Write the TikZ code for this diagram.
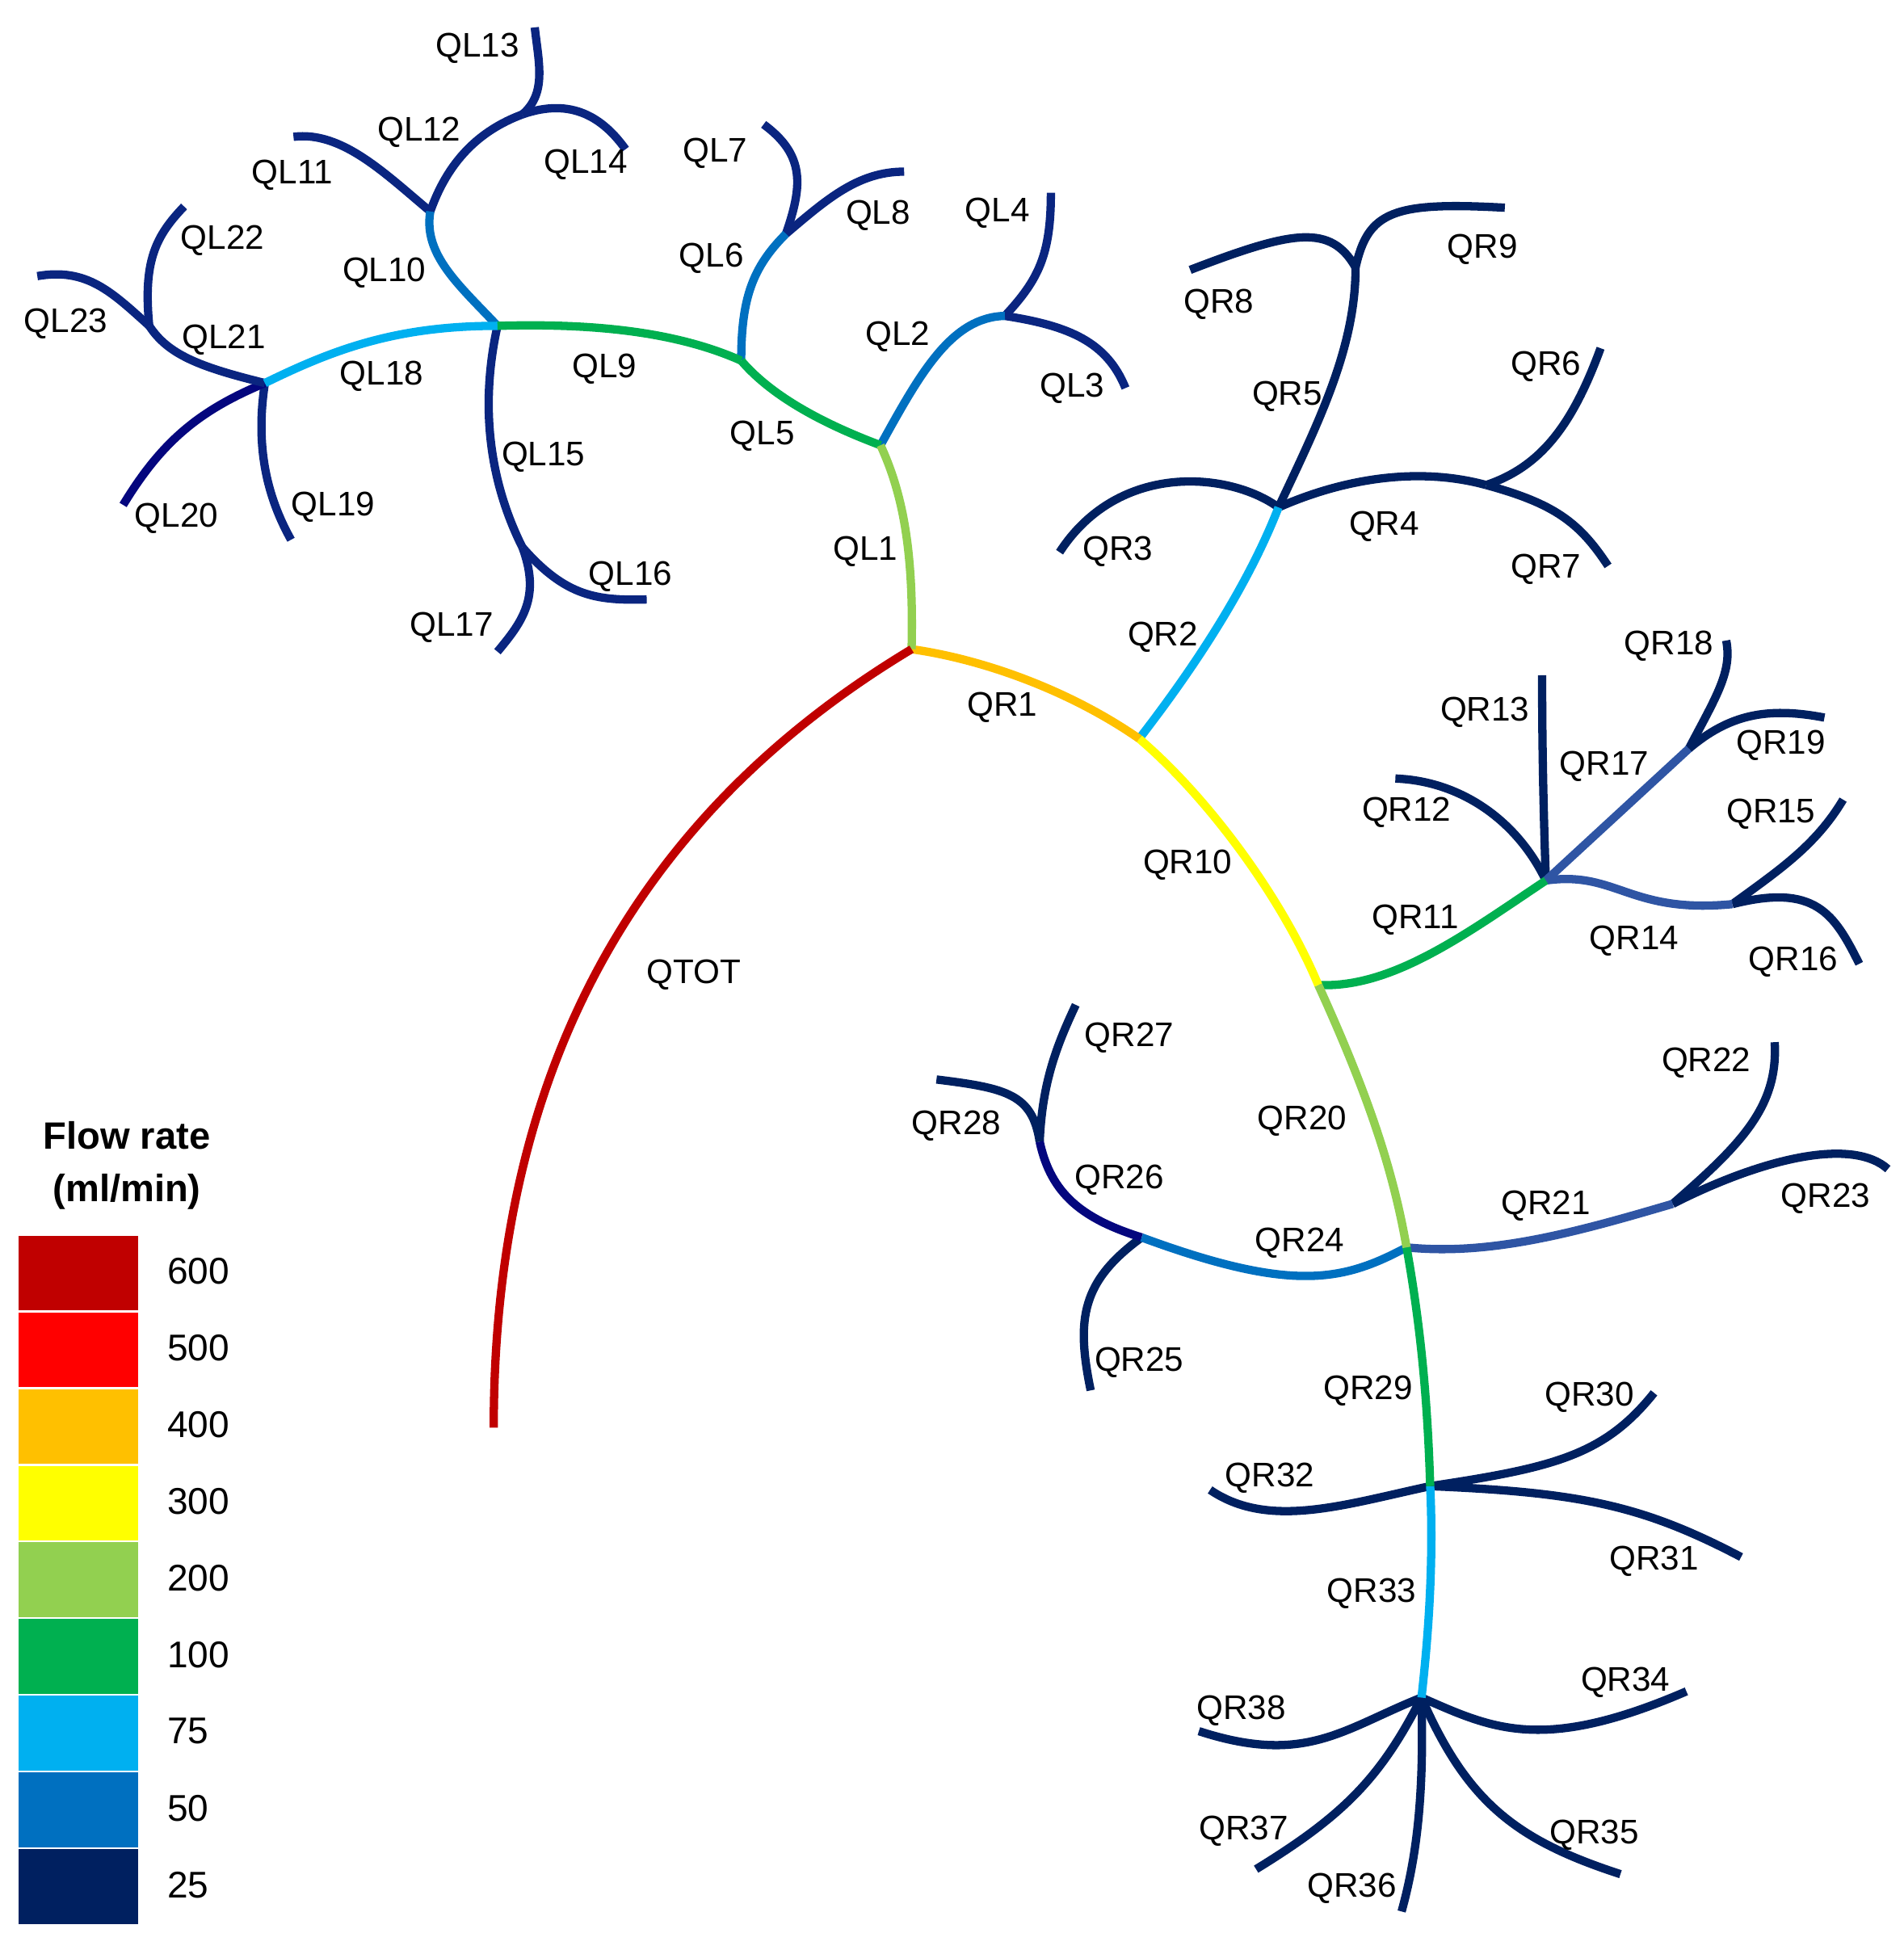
\documentclass[tikz,border=0pt]{standalone}
\usepackage{fontspec}
\setmainfont{Liberation Sans}
\usepackage{tikz}
\usetikzlibrary{positioning, calc}

\definecolor{c600}{HTML}{C00000}
\definecolor{c500}{HTML}{FF0000}
\definecolor{c400}{HTML}{FFC000}
\definecolor{c300}{HTML}{FFFF00}
\definecolor{c200}{HTML}{92D050}
\definecolor{c100}{HTML}{00B050}
\definecolor{c75}{HTML}{00B0F0}
\definecolor{c50}{HTML}{0070C0}
\definecolor{c25}{HTML}{002060}
\definecolor{c25l}{HTML}{0A2580}
\definecolor{c35}{HTML}{2F55A4}
\definecolor{cdeep}{HTML}{04067E}

\tikzstyle{vessel} = [line width=1.9pt, line cap=butt]
\tikzstyle{lbl} = [inner sep=0pt, font=\fontsize{7.8}{9}\selectfont]
\tikzstyle{swatch} = [rectangle, minimum width=0.96cm, minimum height=0.6cm, inner sep=0pt]

\begin{document}
\begin{tikzpicture}[x=0.01cm, y=-0.01cm]
\useasboundingbox (0,0) rectangle (1531,1568);

% junctions and free ends
\coordinate (in) at (397,1148);
\coordinate (qtot) at (733,522);
\coordinate (ql1) at (708,358);
\coordinate (ql2) at (808,254);
\coordinate (ql3) at (905,312);
\coordinate (ql4) at (845,155);
\coordinate (ql5) at (596,290);
\coordinate (ql6) at (632,188);
\coordinate (ql7) at (614,100);
\coordinate (ql8) at (727,138);
\coordinate (ql9) at (400,262);
\coordinate (ql10) at (346,170);
\coordinate (ql11) at (236,110);
\coordinate (ql12) at (420,92);
\coordinate (ql13) at (430,22);
\coordinate (ql14) at (503,120);
\coordinate (ql15) at (420,440);
\coordinate (ql16) at (520,482);
\coordinate (ql17) at (400,524);
\coordinate (ql18) at (213,308);
\coordinate (ql19) at (234,434);
\coordinate (ql20) at (99,406);
\coordinate (ql21) at (120,262);
\coordinate (ql22) at (148,166);
\coordinate (ql23) at (30,222);
\coordinate (qr1) at (916,594);
\coordinate (qr2) at (1028,408);
\coordinate (qr3) at (852,444);
\coordinate (qr4) at (1195,390);
\coordinate (qr5) at (1090,215);
\coordinate (qr6) at (1287,280);
\coordinate (qr7) at (1293,455);
\coordinate (qr8) at (957,217);
\coordinate (qr9) at (1210,167);
\coordinate (qr10) at (1060,792);
\coordinate (qr11) at (1243,708);
\coordinate (qr12) at (1122,626);
\coordinate (qr13) at (1240,543);
\coordinate (qr14) at (1393,727);
\coordinate (qr15) at (1482,643);
\coordinate (qr16) at (1495,775);
\coordinate (qr17) at (1358,602);
\coordinate (qr18) at (1388,515);
\coordinate (qr19) at (1467,577);
\coordinate (qr20) at (1131,1003);
\coordinate (qr21) at (1345,968);
\coordinate (qr22) at (1427,838);
\coordinate (qr23) at (1518,940);
\coordinate (qr24) at (918,995);
\coordinate (qr25) at (877,1118);
\coordinate (qr26) at (836,918);
\coordinate (qr27) at (865,808);
\coordinate (qr28) at (753,868);
\coordinate (qr29) at (1150,1195);
\coordinate (qr30) at (1330,1120);
\coordinate (qr31) at (1400,1252);
\coordinate (qr32) at (973,1198);
\coordinate (qr33) at (1143,1365);
\coordinate (qr34) at (1356,1360);
\coordinate (qr35) at (1303,1507);
\coordinate (qr36) at (1127,1537);
\coordinate (qr37) at (1010,1503);
\coordinate (qr38) at (964,1392);

% left tree
\draw[vessel, c25l] (ql2) .. controls +(52,8) and +(-15,-37) .. (ql3);
\draw[vessel, c25l] (ql2) .. controls +(27,-29) and +(0,50) .. (ql4);
\draw[vessel, c25l] (ql6) .. controls +(13,-38) and +(34,25) .. (ql7);
\draw[vessel, c25l] (ql6) .. controls +(33,-28) and +(-37,0) .. (ql8);
\draw[vessel, c25l] (ql10) .. controls +(-36,-30) and +(39,-5) .. (ql11);
\draw[vessel, c25l] (ql10) .. controls +(14,-40) and +(-35,13) .. (ql12);
\draw[vessel, c25l] (ql12) .. controls +(20,-17) and +(3,28) .. (ql13);
\draw[vessel, c25l] (ql12) .. controls +(40,-14) and +(-18,-25) .. (ql14);
\draw[vessel, c25l] (ql9) .. controls +(-15,68) and +(-25,-50) .. (ql15);
\draw[vessel, c25l] (ql15) .. controls +(35,40) and +(-40,1) .. (ql16);
\draw[vessel, c25l] (ql15) .. controls +(15,40) and +(20,-24) .. (ql17);
\draw[vessel, c25l] (ql18) .. controls +(-8,52) and +(-19,-34) .. (ql19);
\draw[vessel, cdeep] (ql18) .. controls +(-53,22) and +(31,-51) .. (ql20);
\draw[vessel, c25l] (ql18) .. controls +(-53,-13) and +(15,23) .. (ql21);
\draw[vessel, c25l] (ql21) .. controls +(-5,-52) and +(-23,24) .. (ql22);
\draw[vessel, c25l] (ql21) .. controls +(-30,-27) and +(40,-7) .. (ql23);
\draw[vessel, c50] (ql1) .. controls +(32,-58) and +(-43,1) .. (ql2);
\draw[vessel, c50] (ql5) .. controls +(0,-50) and +(-27,27) .. (ql6);
\draw[vessel, c50] (ql9) .. controls +(-30,-32) and +(-6,35) .. (ql10);
\draw[vessel, c75] (ql9) .. controls +(-80,0) and +(57,-28) .. (ql18);
\draw[vessel, c100] (ql5) .. controls +(-56,-25) and +(70,-2) .. (ql9);
\draw[vessel, c100] (ql1) .. controls +(-48,-18) and +(24,28) .. (ql5);

% right tree
\draw[vessel, c25] (qr2) .. controls +(-38,-28) and +(48,-74) .. (qr3);
\draw[vessel, c25] (qr2) .. controls +(52,-23) and +(-55,-15) .. (qr4);
\draw[vessel, c25] (qr2) .. controls +(32,-68) and +(0,65) .. (qr5);
\draw[vessel, c25] (qr4) .. controls +(45,-15) and +(-22,60) .. (qr6);
\draw[vessel, c25] (qr4) .. controls +(55,15) and +(-23,-35) .. (qr7);
\draw[vessel, c25] (qr5) .. controls +(-20,-35) and +(83,-32) .. (qr8);
\draw[vessel, c25] (qr5) .. controls +(10,-45) and +(-90,-5) .. (qr9);
\draw[vessel, c25] (qr11) .. controls +(-23,-48) and +(53,2) .. (qr12);
\draw[vessel, c25] (qr11) .. controls +(-2,-58) and +(0,57) .. (qr13);
\draw[vessel, c25] (qr14) .. controls +(37,-27) and +(-22,37) .. (qr15);
\draw[vessel, c25] (qr14) .. controls +(67,-17) and +(-20,-40) .. (qr16);
\draw[vessel, c25] (qr17) .. controls +(22,-42) and +(5,25) .. (qr18);
\draw[vessel, c25] (qr17) .. controls +(32,-27) and +(-47,-9) .. (qr19);
\draw[vessel, c25] (qr21) .. controls +(55,-48) and +(3,52) .. (qr22);
\draw[vessel, c25] (qr21) .. controls +(75,-38) and +(-28,-25) .. (qr23);
\draw[vessel, c25] (qr24) .. controls +(-48,35) and +(-12,-58) .. (qr25);
\draw[vessel, c25] (qr26) .. controls +(2,-48) and +(-15,32) .. (qr27);
\draw[vessel, c25] (qr26) .. controls +(-6,-38) and +(57,7) .. (qr28);
\draw[vessel, c25] (qr29) .. controls +(100,-15) and +(-40,50) .. (qr30);
\draw[vessel, c25] (qr29) .. controls +(120,5) and +(-80,-42) .. (qr31);
\draw[vessel, c25] (qr29) .. controls +(-70,15) and +(47,32) .. (qr32);
\draw[vessel, c25] (qr33) .. controls +(57,25) and +(-116,50) .. (qr34);
\draw[vessel, c25] (qr33) .. controls +(37,85) and +(-83,-27) .. (qr35);
\draw[vessel, c25] (qr33) .. controls +(2,75) and +(13,-47) .. (qr36);
\draw[vessel, c25] (qr33) .. controls +(-33,65) and +(70,-43) .. (qr37);
\draw[vessel, c25] (qr33) .. controls +(-63,25) and +(86,28) .. (qr38);
\draw[vessel, cdeep] (qr24) .. controls +(-48,-15) and +(9,42) .. (qr26);
\draw[vessel, c35] (qr11) .. controls +(57,-8) and +(-83,8) .. (qr14);
\draw[vessel, c35] (qr11) -- (qr17);
\draw[vessel, c35] (qr20) .. controls +(69,7) and +(-75,22) .. (qr21);
\draw[vessel, c50] (qr20) .. controls +(-51,27) and +(122,45) .. (qr24);
\draw[vessel, c75] (qr1) .. controls +(34,-44) and +(-28,72) .. (qr2);
\draw[vessel, c75] (qr29) .. controls +(3,65) and +(5,-45) .. (qr33);
\draw[vessel, c100] (qr10) .. controls +(60,3) and +(-63,42) .. (qr11);
\draw[vessel, c100] (qr20) .. controls +(12,67) and +(-2,-65) .. (qr29);
\draw[vessel, c200] (qr10) .. controls +(40,88) and +(-11,-63) .. (qr20);
\draw[vessel, c300] (qr1) .. controls +(54,46) and +(-30,-72) .. (qr10);
\draw[vessel, c400] (qtot) .. controls +(57,8) and +(-56,-39) .. (qr1);

% trunk
\draw[vessel, c200] (qtot) .. controls +(2,-82) and +(17,37) .. (ql1);
\draw[vessel, c600] (in) .. controls +(0,-298) and +(-213,128) .. (qtot);

% labels
\foreach \name/\x/\y in {QL1/696/441, QL2/722/268, QL3/862/310, QL4/802/169,
    QL5/613/348, QL6/572/205, QL7/575/121, QL8/706/171, QL9/486/294,
    QL10/309/217, QL11/235/138, QL12/337/104, QL13/384/36, QL14/471/130,
    QL15/437/365, QL16/507/461, QL17/363/502, QL18/307/300, QL19/268/405,
    QL20/142/414, QL21/180/271, QL22/179/191, QL23/53/258,
    QR1/806/566, QR2/935/510, QR3/899/441, QR4/1113/421, QR5/1035/316,
    QR6/1243/292, QR7/1243/455, QR8/980/242, QR9/1192/198, QR10/955/693,
    QR11/1138/737, QR12/1131/651, QR13/1194/570, QR14/1314/754,
    QR15/1424/652, QR16/1442/771, QR17/1290/614, QR18/1342/517,
    QR19/1432/597, QR20/1047/899, QR21/1243/967, QR22/1372/852,
    QR23/1468/961, QR24/1045/997, QR25/916/1093, QR26/900/946,
    QR27/908/832, QR28/769/903, QR29/1100/1116, QR30/1278/1121,
    QR31/1330/1253, QR32/1021/1186, QR33/1103/1279, QR34/1307/1350,
    QR35/1282/1473, QR36/1087/1516, QR37/1000/1470, QR38/998/1373,
    QTOT/558/781}
  \node[lbl] (t\name) at (\x,{\y+2.5}) {\name};

% legend
\node[align=center, inner sep=0pt, font=\fontsize{8.7}{12}\selectfont\bfseries]
  (title) at (102,937) {Flow rate\\(ml/min)};
\foreach \val/\col [count=\i] in {600/c600, 500/c500, 400/c400, 300/c300,
    200/c200, 100/c100, 75/c75, 50/c50, 25/c25} {
  \node[swatch, fill=\col] (sw\i) at (63,{993+61.7*(\i-1)+30.5}) {};
  \node[anchor=west, inner sep=0pt, font=\fontsize{8.5}{10}\selectfont]
    (v\i) at (134,{993+61.7*(\i-1)+29}) {\val};
}
\end{tikzpicture}
\end{document}
